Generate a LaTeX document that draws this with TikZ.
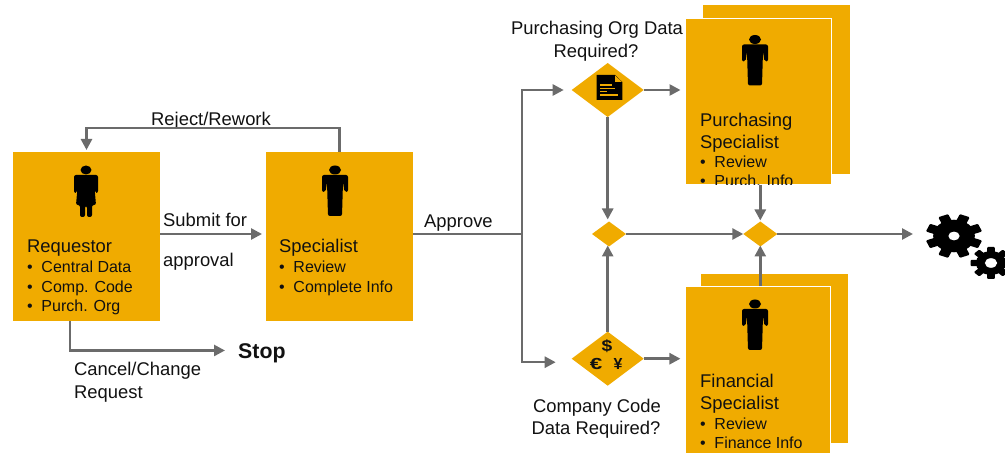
\documentclass[tikz,border=0pt]{standalone}
\usepackage{fontspec}
\setmainfont{Liberation Sans}
\usetikzlibrary{arrows.meta,shapes.geometric}
\definecolor{sapgold}{HTML}{F0AB00}
\definecolor{conn}{HTML}{6B6B6B}
\definecolor{ink}{HTML}{111111}
\newcommand{\bul}[1]{\makebox[14.3pt][l]{\textbullet}#1}
\tikzset{
  stack/.style={fill=sapgold,inner sep=0pt,outer sep=0pt},
  front/.style={fill=sapgold,draw=white,line width=1.5pt,inner sep=0pt,outer sep=0pt},
  bigdia/.style={diamond,fill=sapgold,inner sep=0pt,outer sep=0pt,minimum width=72pt,minimum height=54pt},
  smalldia/.style={diamond,fill=sapgold,inner sep=0pt,outer sep=0pt,minimum width=34pt,minimum height=25pt},
  head/.style={anchor=base west,yshift=-0.7pt,inner sep=0pt,font=\fontsize{18.4}{20}\selectfont,text=ink},
  item/.style={anchor=base west,yshift=-0.7pt,inner sep=0pt,font=\fontsize{16}{18}\selectfont,text=ink},
  lab/.style={anchor=base west,yshift=-0.7pt,inner sep=0pt,font=\fontsize{18.4}{20}\selectfont,text=ink},
  clab/.style={anchor=base,yshift=-0.7pt,inner sep=0pt,font=\fontsize{18.4}{20}\selectfont,text=ink},
  link/.style={draw=conn,line width=2.6pt,-{Triangle[length=11pt,width=11pt]}},
  thin link/.style={draw=conn,line width=1.1pt},
  man/.pic={
    \fill[black] (0,0) ellipse (6pt and 4.5pt);
    \fill[black,rounded corners=2pt] (-13,5) -- (13,5) -- (13,22) -- (9.5,22) -- (8,12) -- (7,46) -- (-7,46) -- (-8,12) -- (-9.5,22) -- (-13,22) -- cycle;
  },
  woman/.pic={
    \fill[black] (0,0) ellipse (5.5pt and 4.5pt);
    \fill[black,rounded corners=2pt] (-12,5) -- (12,5) -- (12,23) -- (9,23) -- (8,12) -- (10,35) -- (6,35) -- (6,47) -- (1,47) -- (1,36) -- (-1,36) -- (-1,47) -- (-6,47) -- (-6,35) -- (-10,35) -- (-8,12) -- (-9,23) -- (-12,23) -- cycle;
  },
}
% x, y, vertical radius, start angle, hole ratio
\newcommand{\gear}[5]{%
  \begin{scope}[shift={(#1,#2)},xscale=1.28]
    \fill[black] (0,0) circle ({0.74*#3});
    \foreach \a in {0,45,...,315}
      \fill[black,rotate={#4+\a},rounded corners=1pt] ({-0.19*#3},0) rectangle ({0.19*#3},{#3});
    \fill[white] (0,0) circle ({#5*#3});
  \end{scope}
}
\begin{document}
\begin{tikzpicture}[x=1pt,y=-1pt]
\useasboundingbox (0,0) rectangle (1005,454);
% stacked back sheets
\node[stack,minimum width=147pt,minimum height=169pt] (pback) at (776.5,89.5) {};
\node[stack,minimum width=147pt,minimum height=169pt] (fback) at (774.5,358.5) {};
\node[smalldia] (s1) at (609,234) {};
\node[smalldia] (s2) at (760.3,234) {};
% boxes
\node[stack,minimum width=147pt,minimum height=169pt] (req) at (86.5,236.5) {};
\node[stack,minimum width=147pt,minimum height=169pt] (spec) at (339.5,236.5) {};
\node[front,minimum width=146pt,minimum height=166.5pt] (pur) at (758.5,101.75) {};
\node[front,minimum width=145.25pt,minimum height=167pt] (fin) at (758.1,370) {};
\node[bigdia] (d1) at (607.7,90) {};
\node[bigdia] (d2) at (607.7,358.7) {};
% free ends
\coordinate (trunk) at (522,234);
\node[inner sep=0pt,anchor=base west,font=\fontsize{21.3}{23}\selectfont\bfseries,text=ink] (stop) at (238,358.7) {Stop};
\coordinate (gearin) at (925,234);
% persons
\pic at (86,170) {woman};
\pic at (335,170) {man};
\pic at (755,39.5) {man};
\pic at (755,304) {man};
% texts in boxes
\node[head] (t1) at (27,252) {Requestor};
\node[item] (t2) at (27,272) {\bul{Central Data}};
\node[item] (t3) at (27,291.5) {\bul{Comp. Code}};
\node[item] (t4) at (27,310.5) {\bul{Purch. Org}};
\node[head] (t5) at (279,252) {Specialist};
\node[item] (t6) at (279,272) {\bul{Review}};
\node[item] (t7) at (279,291.5) {\bul{Complete Info}};
\begin{scope}
\clip (pur.north west) rectangle (pur.south east);
\node[head] (t8) at (700,126) {Purchasing};
\node[head] (t9) at (700,147.5) {Specialist};
\node[item] (t10) at (700,167) {\bul{Review}};
\node[item] (t11) at (700,186) {\bul{Purch. Info}};
\end{scope}
\node[head] (t12) at (700,387) {Financial};
\node[head] (t13) at (700,409) {Specialist};
\node[item] (t14) at (700,429) {\bul{Review}};
\node[item] (t15) at (700,448) {\bul{Finance Info}};
% outer labels
\node[lab] (l1) at (151,125) {Reject/Rework};
\node[lab] (l2) at (163,226) {Submit for};
\node[lab] (l3) at (163,266) {approval};
\node[lab] (l4) at (424,227) {Approve};
\node[lab] (l5) at (74,375) {Cancel/Change};
\node[lab] (l6) at (74,398) {Request};
\node[clab] (l7) at (597,34) {Purchasing Org Data};
\node[clab] (l8) at (596,57) {Required?};
\node[clab] (l9) at (597,412) {Company Code};
\node[clab] (l10) at (596,434) {Data Required?};
% connectors
\draw[link,shorten >=2pt] (spec.north) -- ++(0,-24) -| (req.north);
\draw[link,shorten >=4pt] ([yshift=2.5pt]req.east) -- ([yshift=2.5pt]spec.west);
\draw[link,shorten >=13pt] ([xshift=-16.5pt]req.south) |- ([yshift=3pt]stop.west);
\draw[thin link] ([yshift=2.5pt]spec.east) -- (trunk);
\draw[link,shorten >=8pt] (trunk) |- (d1.west);
\draw[link,shorten >=16pt] (trunk) |- ([yshift=-3.5pt]d2.west);
\draw[link,shorten >=5pt] (d1.east) -- (d1.east -| pur.west);
\draw[link,shorten >=5pt] (d2.east) -- (d2.east -| fin.west);
\draw[link,shorten >=2pt] (d1.south) -- (d1.south |- s1.north);
\draw[link,shorten >=-1pt] (d2.north) -- (d2.north |- s1.south);
\draw[link] (s1.east) -- (s2.west);
\draw[link,shorten >=1pt] (s2.north |- pur.south) -- (s2.north);
\draw[link,shorten >=-1pt] (s2.south |- fin.north) -- (s2.south);
\draw[link,shorten >=12pt] (s2.east) -- (gearin);
% document icon
\fill[black] (596.7,75) -- (615,75) -- (622.3,82) -- (622.3,100) -- (596.7,100) -- cycle;
\fill[sapgold] (615,75.5) -- (622,82) -- (615,82) -- cycle;
\foreach \yy/\xx in {85/611.7,88.3/615,91.7/607,95/618}
  \draw[sapgold,line width=1.1pt] (600,\yy) -- (\xx,\yy);
% currency icon
\node[inner sep=0pt,font=\fontsize{16}{17}\selectfont\bfseries,text=ink] (cd) at (607,346) {\scalebox{1.2}[1]{\$}};
\node[inner sep=0pt,font=\fontsize{16}{17}\selectfont\bfseries,text=ink] (ce) at (596,364) {\scalebox{1.4}[1]{€}};
\node[inner sep=0pt,font=\fontsize{16}{17}\selectfont\bfseries,text=ink] (cy) at (618,364) {¥};
% gears
\begin{scope}
\clip (0,0) rectangle (1005,454);
\gear{954}{236}{22}{22.5}{0.2}
\gear{991}{263}{16}{0}{0.3}
\end{scope}
\end{tikzpicture}
\end{document}
